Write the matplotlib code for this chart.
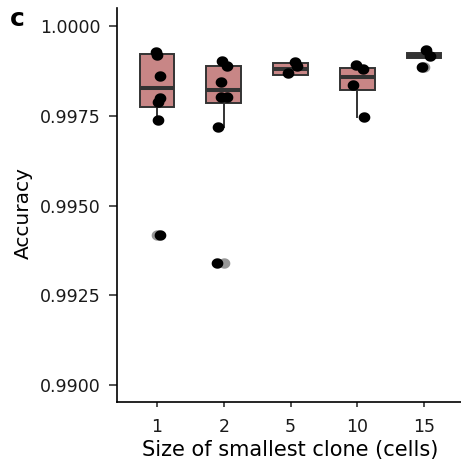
import matplotlib
matplotlib.use("Agg")
import matplotlib.pyplot as plt
import numpy as np
from matplotlib.path import Path

plt.rcParams['font.family'] = ['DejaVu Sans']

categories = ['1', '2', '5', '10', '15']

# box statistics
q1 = [0.99775, 0.99785, 0.99864, 0.99822, 0.99910]
med = [0.99828, 0.99822, 0.99880, 0.99859, 0.99916]
q3 = [0.99922, 0.99889, 0.99896, 0.99882, 0.99924]
whislo = [0.99738, 0.99719, 0.99864, 0.99747, 0.99910]
whishi = [0.99928, 0.99903, 0.99898, 0.99891, 0.99924]
outliers = [[0.99418], [0.99340], [], [], [0.99886]]

# individual points (jittered)
pts_1 = [0.99928, 0.99919, 0.99861, 0.99799, 0.99788, 0.99738, 0.99418]
jit_1 = [-0.02, 0.00, 0.05, 0.05, 0.02, 0.02, 0.05]
pts_2 = [0.99903, 0.99889, 0.99844, 0.99802, 0.99802, 0.99719, 0.99340]
jit_2 = [-0.03, 0.05, -0.04, -0.04, 0.05, -0.08, -0.10]
pts_5 = [0.99900, 0.99889, 0.99868]
jit_5 = [0.06, 0.10, -0.03]
pts_10 = [0.99891, 0.99880, 0.99836, 0.99747]
jit_10 = [-0.02, 0.09, -0.07, 0.10]
pts_15 = [0.99933, 0.99916, 0.99886]
jit_15 = [0.03, 0.09, -0.03]

points = [pts_1, pts_2, pts_5, pts_10, pts_15]
jitters = [jit_1, jit_2, jit_5, jit_10, jit_15]

yticks = [0.9900, 0.9925, 0.9950, 0.9975, 1.0000]

# slightly wide dot marker (the reference looks horizontally stretched)
t = np.linspace(0, 2 * np.pi, 64)
dot = Path(np.column_stack([1.12 * np.cos(t), np.sin(t)]), closed=True)

fig = plt.figure(figsize=(4.61, 4.66), dpi=100)
ax = fig.add_axes([117/461, 1 - 402/466, 347/461, (402 - 8)/466])

stats = []
for i in range(len(categories)):
    stats.append(dict(q1=q1[i], med=med[i], q3=q3[i], whislo=whislo[i],
                      whishi=whishi[i], fliers=outliers[i], label=categories[i]))

pos = list(range(1, len(categories) + 1))
edge = '#333333'
ax.bxp(stats, positions=pos, widths=0.52, patch_artist=True, showcaps=False,
       boxprops=dict(facecolor='#C88686', edgecolor=edge, linewidth=1.4),
       medianprops=dict(color=edge, linewidth=2.9, solid_capstyle='butt'),
       whiskerprops=dict(color=edge, linewidth=1.4),
       flierprops=dict(marker=dot, markerfacecolor='#8c8c8c', markeredgecolor='none',
                       markersize=8.4, alpha=0.9))

for i, (vals, jit) in enumerate(zip(points, jitters)):
    xs = [pos[i] + j for j in jit]
    ax.scatter(xs, vals, s=8.4**2, marker=dot, color='black', zorder=5, linewidths=0)

ax.set_xlim(0.4, 5.6)
ax.set_ylim(0.98953, 1.0005)
ax.set_xticks(pos)
ax.set_xticklabels(categories)
ax.set_yticks(yticks)
ax.set_yticklabels([f"{v:.4f}" for v in yticks])

for s in ['top', 'right']:
    ax.spines[s].set_visible(False)
for s in ['left', 'bottom']:
    ax.spines[s].set_linewidth(1.2)
    ax.spines[s].set_color('black')
ax.tick_params(axis='y', length=5.5, width=1.2, color='#333333',
               labelsize=12.5, labelcolor='#1a1a1a', pad=6.5)
ax.tick_params(axis='x', length=3.8, width=1.2, color='#333333',
               labelsize=12.5, labelcolor='#1a1a1a', pad=8)

ax.set_ylabel('Accuracy', fontsize=14.5)
ax.set_xlabel('Size of smallest clone (cells)', fontsize=15)
ax.yaxis.set_label_coords(-0.242, 0.48)
ax.xaxis.set_label_coords(0.5, -0.097)

fig.text(10/461, 1 - 26/466, 'c', fontsize=18, fontweight='bold', ha='left', va='baseline')

fig.savefig('out.png', dpi=100)
